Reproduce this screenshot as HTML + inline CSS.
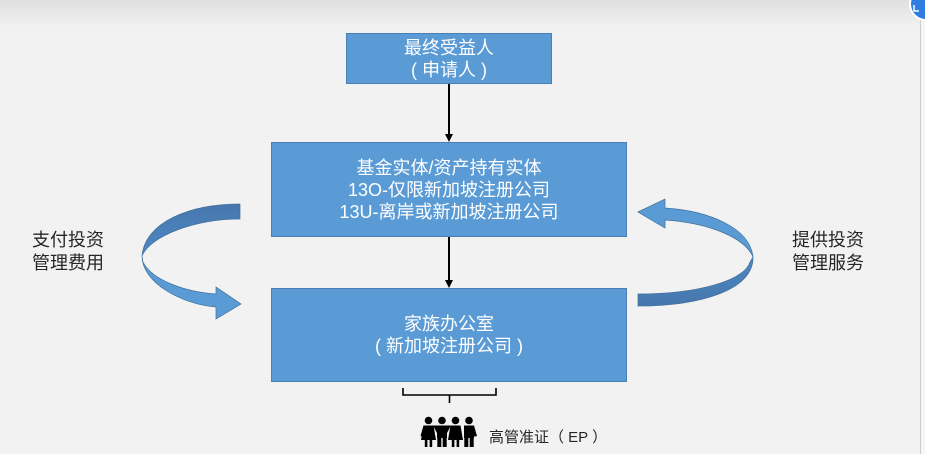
<!DOCTYPE html>
<html>
<head>
<meta charset="utf-8">
<style>
  html,body{margin:0;padding:0;}
  body{width:925px;height:454px;position:relative;overflow:hidden;
    background:linear-gradient(to bottom,#dfdfdf 0px,#e9e9e9 14px,#f0f0f0 26px,#f2f2f2 40px,#f2f2f2 100%);
    font-family:"Liberation Sans","Noto Sans CJK SC",sans-serif;}
  .box{position:absolute;background:#5b9bd5;border:1px solid #4a7fb3;box-sizing:border-box;
    color:#fff;font-size:18px;line-height:22px;display:flex;flex-direction:column;
    align-items:center;justify-content:center;text-align:center;white-space:nowrap;}
  .lbl{position:absolute;color:#262626;font-size:18px;line-height:23px;white-space:nowrap;}
  .rline{position:absolute;left:920px;top:0;width:1px;height:454px;background:#cdcdcd;}
  .rstrip{position:absolute;left:921px;top:0;width:4px;height:454px;background:#f6f6f6;}
</style>
</head>
<body>
<div class="rstrip"></div>
<div class="rline"></div>

<div class="box" style="left:346px;top:33px;width:206px;height:51px;">
  <div>最终受益人</div>
  <div>( 申请人 )</div>
</div>

<div class="box" style="left:271px;top:142px;width:356px;height:95px;">
  <div>基金实体/资产持有实体</div>
  <div>13O-仅限新加坡注册公司</div>
  <div>13U-离岸或新加坡注册公司</div>
</div>

<div class="box" style="left:271px;top:288px;width:356px;height:94px;">
  <div>家族办公室</div>
  <div>( 新加坡注册公司 )</div>
</div>

<div class="lbl" style="left:32px;top:229px;">支付投资<br>管理费用</div>
<div class="lbl" style="left:792px;top:229px;">提供投资<br>管理服务</div>

<div class="lbl" style="left:489px;top:428px;font-size:15px;line-height:20px;">高管准证（ EP ）</div>

<svg width="925" height="454" style="position:absolute;left:0;top:0;" xmlns="http://www.w3.org/2000/svg">
  <defs>
    <linearGradient id="dk" x1="0" y1="0" x2="0" y2="1">
      <stop offset="0" stop-color="#4677ad"/>
      <stop offset="1" stop-color="#4f88c3"/>
    </linearGradient>
    <linearGradient id="dk2" x1="0" y1="0" x2="0" y2="1">
      <stop offset="0" stop-color="#4f88c3"/>
      <stop offset="1" stop-color="#4677ad"/>
    </linearGradient>
  </defs>
  <!-- connectors -->
  <line x1="449" y1="84" x2="449" y2="135" stroke="#000" stroke-width="2"/>
  <polygon points="445,134 453,134 449,142" fill="#000"/>
  <line x1="449" y1="237" x2="449" y2="281" stroke="#000" stroke-width="2"/>
  <polygon points="445,280 453,280 449,288" fill="#000"/>

  <!-- left curved arrow -->
  <path d="M240,204 C190,204 145,222 142,256 C150,236 195,219 240,219 Z" fill="url(#dk)" stroke="#41719c" stroke-width="0.7"/>
  <path d="M142,256 C142,282 180,304 216,307 L216,319 L241,304 L216,287 L216,294 C185,292 152,280 143,262 Z" fill="#5b9bd5" stroke="#41719c" stroke-width="0.7"/>

  <!-- right curved arrow -->
  <path d="M638,212 L665,199 L665,208 C710,211 750,228 753,257 C745,238 710,223 665,220 L665,228 Z" fill="#5b9bd5" stroke="#41719c" stroke-width="0.7"/>
  <path d="M753,257 C754,290 700,306 638,306 L638,294 C700,294 745,280 750,262 Z" fill="url(#dk2)" stroke="#41719c" stroke-width="0.7"/>

  <!-- bracket -->
  <path d="M403,388 L403,395 L496,395 L496,388" fill="none" stroke="#000" stroke-width="1.6"/>
  <line x1="449.5" y1="395" x2="449.5" y2="403" stroke="#000" stroke-width="1.6"/>

  <!-- people icon -->
  <g fill="#000">
    <!-- person 1 (dress) -->
    <circle cx="428.5" cy="420.5" r="3.8"/>
    <path d="M423.5,425.5 L433.5,425.5 L436,440 L421,440 Z"/>
    <rect x="424.8" y="439" width="2.6" height="8"/>
    <rect x="429.6" y="439" width="2.6" height="8"/>
    <path d="M423.5,425.5 L420.5,436 L423,436.8 L426,429 Z"/>
    <!-- person 2 (pants) -->
    <circle cx="442" cy="420.5" r="3.8"/>
    <rect x="437" y="425.5" width="10" height="12.5"/>
    <rect x="437.3" y="437" width="4" height="10"/>
    <rect x="442.7" y="437" width="4" height="10"/>
    <path d="M433,425.5 L437.5,425.5 L437.5,434 Z"/>
    <path d="M446.5,425.5 L451,425.5 L446.5,434 Z"/>
    <!-- person 3 (dress) -->
    <circle cx="455.5" cy="420.5" r="3.8"/>
    <path d="M450.5,425.5 L460.5,425.5 L463,440 L448,440 Z"/>
    <rect x="451.8" y="439" width="2.6" height="8"/>
    <rect x="456.6" y="439" width="2.6" height="8"/>
    <!-- person 4 (pants) -->
    <circle cx="469" cy="420.5" r="3.8"/>
    <rect x="464" y="425.5" width="10" height="12.5"/>
    <rect x="464.3" y="437" width="4" height="10"/>
    <rect x="469.7" y="437" width="4" height="10"/>
    <path d="M474,425.5 L477,436 L474.5,436.8 L472,429 Z"/>
  </g>

  <!-- top-right badge -->
  <circle cx="926" cy="4" r="16" fill="#2f7de1" stroke="#ffffff" stroke-width="2"/>
  <path d="M914,5 L914,11 L919,11" fill="none" stroke="#fff" stroke-width="1.5"/>
</svg>
</body>
</html>
